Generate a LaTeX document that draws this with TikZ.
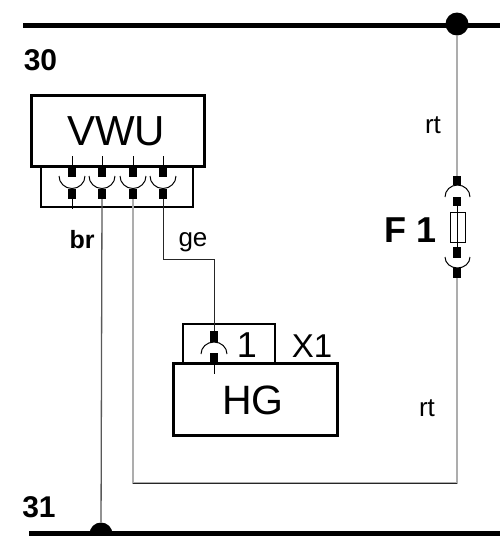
\documentclass[tikz,border=0pt]{standalone}
\usepackage{fontspec}
\setmainfont{Liberation Sans}
\definecolor{wiregrey}{gray}{0.68}
\definecolor{wiredark}{gray}{0.15}
\definecolor{wiremid}{gray}{0.35}
\tikzset{
  bus/.style={line width=5pt,black},
  junction/.style={circle,fill=black,draw=none,minimum size=23pt,inner sep=0pt},
  heavybox/.style={draw=black,line width=3pt,fill=white,inner sep=0pt,outer sep=0pt,anchor=north west},
  lightbox/.style={draw=black,line width=1.5pt,fill=white,inner sep=0pt,outer sep=0pt,anchor=north west},
  lbl/.style={anchor=base,inner sep=0pt,text=black},
  thinwire/.style={line width=1pt,black!85},
  darkwire/.style={line width=1pt,wiredark},
  midwire/.style={line width=1.3pt,wiremid},
  greywire/.style={line width=2pt,wiregrey},
  contact/.style={fill=black,draw=none},
  cup/.style={line width=1pt,black},
}
\newcommand{\lblfont}[1]{\fontsize{#1}{#1}\selectfont}
\newcommand{\pinrect}[3]{\fill[contact] (#1-4,#2) rectangle (#1+4,#3);}
\begin{document}
\begin{tikzpicture}[x=1pt,y=-1pt]
\useasboundingbox (0,0) rectangle (500,536);
\clip (0,0) rectangle (500,536);
\fill[white] (0,0) rectangle (500,536);

% named points
\coordinate (busTopL) at (23,25);
\coordinate (busTopR) at (500,25);
\coordinate (busBotL) at (29,533);
\coordinate (busBotR) at (500,533);
\coordinate (c1) at (133,483);
\coordinate (c2) at (457,483);
\coordinate (g1) at (163,259);
\coordinate (g2) at (214,259);

% boxes
\node[lightbox,minimum width=152pt,minimum height=41pt] (conn) at (41,166) {};
\node[heavybox,minimum width=173pt,minimum height=71pt] (vwu) at (31,95) {};
\node[lightbox,minimum width=92pt,minimum height=39pt] (xbox) at (183,324) {};
\node[heavybox,minimum width=164pt,minimum height=72pt] (hg) at (173,363) {};

% buses
\draw[bus] (busTopL) -- (busTopR);
\draw[bus] (busBotL) -- (busBotR);
\node[junction] (jtop) at (457,24) {};
\node[junction] (jbot) at (101,534) {};

% pin anchors
\coordinate (p1) at (72,199);
\coordinate (p2) at (102,199);
\coordinate (p3) at (133,199);
\coordinate (p4) at (163,199);
\coordinate (hgpin) at (214,331);
\coordinate (ftop) at (457,176);
\coordinate (fbot) at (457,278);

% wires
\draw[greywire] (jtop) -- (ftop);
\draw[greywire] (fbot) -- (c2) -- (c1) -- (p3);
\draw[darkwire] ([yshift=-.5pt]c1) -- ([yshift=-.5pt]c2);
\draw[midwire] (p2) -- (jbot);
\draw[thinwire] (p4) -- (g1) -- (g2) -- (hgpin);

% VWU connector pins (y axis points down, so arc angles are mirrored)
\foreach \x in {72,102,133,163}{
  \draw[line width=.8pt,black] (\x,156) -- (\x,166);
  \pinrect{\x}{166}{177}
  \draw[cup] (\x-13,176) arc[start angle=180,end angle=0,x radius=13,y radius=12.5];
  \pinrect{\x}{189}{199}
}
\draw[line width=.8pt,black] (72,199) -- (72,209);

% fuse
\pinrect{457}{176}{185}
\draw[cup] (445,197) arc[start angle=180,end angle=360,x radius=12.5,y radius=12];
\pinrect{457}{197}{206}
\node[draw=black,line width=.8pt,fill=white,minimum width=15pt,minimum height=30pt,inner sep=0pt] (fuse) at (457.5,227) {};
\draw[line width=.8pt,black] (457,206) -- (457,247);
\pinrect{457}{247}{258}
\draw[cup] (445,257) arc[start angle=180,end angle=0,x radius=12.5,y radius=11];
\pinrect{457}{268}{278}

% HG pin
\pinrect{214}{331}{342}
\draw[cup] (201,354) arc[start angle=180,end angle=360,x radius=13,y radius=12];
\pinrect{214}{353}{363.5}
\draw[line width=.8pt,black] (214,363) -- (214,374);

% labels
\node[lbl,font=\lblfont{30}\bfseries] (t30) at (40.5,70) {30};
\node[lbl,font=\lblfont{30}\bfseries] (t31) at (39,517) {31};
\node[lbl,font=\lblfont{42}] (tvwu) at (116,145) {VWU};
\node[lbl,font=\lblfont{25}\bfseries] (tbr) at (82,248) {br};
\node[lbl,font=\lblfont{26}] (tge) at (193,246) {ge};
\node[lbl,font=\lblfont{26}] (trt1) at (433,133) {rt};
\node[lbl,font=\lblfont{26}] (trt2) at (427,416) {rt};
\node[lbl,font=\lblfont{36}\bfseries] (tf) at (411,242) {F 1};
\node[lbl,font=\lblfont{36}] (tone) at (247,357) {1};
\node[lbl,font=\lblfont{33}] (tx) at (312,357) {X1};
\node[lbl,font=\lblfont{41}] (thg) at (253,414) {HG};
\end{tikzpicture}
\end{document}
